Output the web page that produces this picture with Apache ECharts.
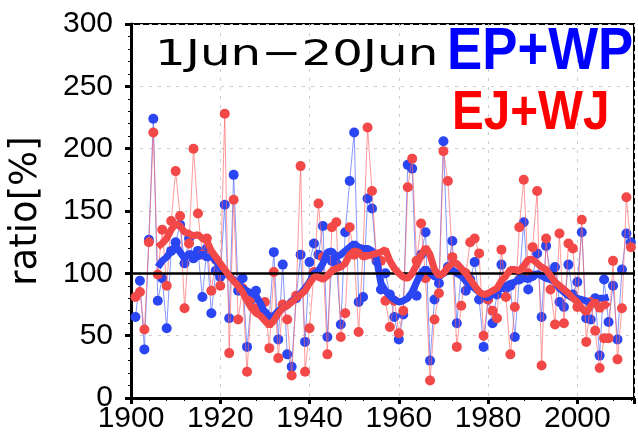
<!DOCTYPE html>
<html>
<head>
<meta charset="utf-8">
<script src="https://cdn.jsdelivr.net/npm/echarts@6/dist/echarts.min.js"></script>
</head>
<body style="margin:0;background:#fff">
<div id="main" style="width:638px;height:444px"></div>
<script>
// yearly ratio [%], 1901-2012
var firstYear = 1901;
var epwp = [65, 94, 39, 127, 224, 78, 96, 56, 118, 125,
    139, 108, 128, 112, 118, 81, 120, 68, 102, 97,
    155, 64, 179, 86, 96, 41, 79, 86, 72, 68,
    65, 117, 47, 107, 35, 25, 80, 115, 45, 109,
    124, 115, 138, 49, 110, 108, 59, 133, 174, 213,
    77, 81, 160, 152, 110, 87, 100, 83, 65, 47,
    67, 187, 184, 82, 115, 133, 30, 79, 92, 206,
    105, 126, 60, 101, 86, 95, 109, 79, 41, 79,
    60, 83, 107, 88, 90, 49, 95, 141, 87, 98,
    116, 65, 122, 100, 105, 77, 73, 107, 83, 93,
    133, 64, 63, 80, 34, 95, 61, 90, 47, 103,
    132, 125];
var ejwj = [81, 85, 55, 125, 213, 99, 135, 90, 142, 182,
    146, 72, 124, 200, 148, 115, 128, 86, 111, 90,
    228, 36, 159, 63, 88, 21, 80, 72, 68, 77,
    40, 101, 32, 75, 63, 18, 82, 186, 21, 56,
    101, 156, 113, 35, 137, 141, 49, 68, 137, 115,
    53, 118, 217, 166, 112, 110, 78, 57, 78, 52,
    70, 169, 192, 110, 140, 96, 14, 63, 84, 198,
    174, 113, 41, 74, 100, 125, 128, 116, 50, 79,
    70, 64, 119, 81, 35, 73, 137, 175, 100, 121,
    166, 26, 128, 87, 59, 132, 60, 124, 120, 73,
    143, 45, 77, 54, 24, 48, 48, 110, 31, 72,
    161, 121];

// smoothed curves (thick lines), 1906-2007
var firstSmooth = 1906;
var epwpSmooth = [105, 110, 113, 118, 122, 117, 112, 116, 115, 113,
    116, 112, 114, 110, 105, 100, 98, 95, 92, 88,
    86, 84, 82, 76, 68, 64, 66, 70, 72, 74,
    78, 80, 84, 88, 93, 100, 102, 108, 117, 118,
    113, 115, 118, 121, 124, 121, 120, 120, 118, 112,
    92, 86, 82, 79, 77, 78, 80, 85, 93, 100,
    104, 100, 97, 97, 100, 102, 103, 100, 98, 94,
    90, 88, 85, 82, 80, 84, 86, 88, 90, 92,
    93, 95, 96, 95, 97, 100, 98, 96, 95, 93,
    88, 85, 82, 80, 80, 79, 78, 75, 78, 80,
    80, 81];
var ejwjSmooth = [121, 124, 128, 135, 140, 138, 133, 132, 130, 131,
    128, 126, 118, 113, 108, 103, 98, 94, 90, 85,
    78, 72, 68, 66, 62, 58, 62, 68, 72, 74,
    77, 80, 83, 86, 92, 97, 97, 95, 98, 102,
    104, 105, 108, 115, 118, 117, 113, 114, 115, 116,
    117, 119, 110, 104, 100, 97, 96, 100, 107, 114,
    121, 115, 103, 98, 100, 105, 108, 108, 104, 100,
    95, 90, 85, 83, 84, 86, 88, 94, 98, 103,
    103, 102, 106, 111, 111, 108, 105, 103, 98, 93,
    90, 87, 84, 80, 77, 72, 68, 74, 78, 70,
    76, 73];

var yTicks = [0, 50, 100, 150, 200, 250, 300];

function pairs(start, vals) {
    var out = [];
    for (var i = 0; i < vals.length; i++) out.push([start + i, vals[i]]);
    return out;
}

var blue = '#2a45f2', red = '#f24848';
var tickFont = "'Liberation Sans', Arial, sans-serif";

var dom = document.getElementById('main');
var chart = echarts.init(dom);
var option = {
    animation: false,
    backgroundColor: '#fff',
    grid: {
        left: 131, right: 4, top: 24, bottom: 46,
        show: true, borderColor: '#000', borderWidth: 2
    },
    xAxis: {
        type: 'value', min: 1900, max: 2012.7, interval: 20,
        axisLine: { show: true, onZero: false, lineStyle: { color: '#000', width: 3 } },
        axisTick: { show: true, inside: false, length: 6, lineStyle: { color: '#000', width: 3 } },
        minorTick: { show: true, splitNumber: 5, length: 3, lineStyle: { color: '#000', width: 1 } },
        axisLabel: {
            color: '#000', fontSize: 30, fontFamily: tickFont, margin: 6,
            showMaxLabel: false,
            formatter: function (v) { return String(v); }
        },
        splitLine: { show: true, lineStyle: { color: '#cccccc', width: 1, type: [3, 6] } }
    },
    yAxis: {
        type: 'value', min: yTicks[0], max: yTicks[yTicks.length - 1], interval: 50,
        name: 'ratio[%]', nameLocation: 'middle', nameGap: 86,
        nameTextStyle: { color: '#000', fontSize: 37, fontFamily: "'DejaVu Sans', sans-serif" },
        axisLine: { show: true, lineStyle: { color: '#000', width: 3 } },
        axisTick: { show: true, length: 6, lineStyle: { color: '#000', width: 3 } },
        minorTick: { show: true, splitNumber: 5, length: 3, lineStyle: { color: '#000', width: 1 } },
        axisLabel: { color: '#000', fontSize: 30, fontFamily: tickFont, margin: 18 },
        splitLine: { show: true, lineStyle: { color: '#cccccc', width: 1, type: [3, 6] } }
    },
    graphic: [
        {
            type: 'text', x: 155, y: 38, z: 100, scaleX: 1.34,
            style: { text: '1Jun\u221220Jun', fill: '#000', font: "36px 'DejaVu Sans'" }
        },
        {
            type: 'text', x: 447, y: 22, z: 100, scaleX: 0.88,
            style: { text: 'EP+WP', fill: '#0000ff', font: "bold 60px 'Liberation Sans', Arial" }
        },
        {
            type: 'text', x: 452, y: 86, z: 100, scaleX: 0.85,
            style: { text: 'EJ+WJ', fill: '#ff0000', font: "bold 56px 'Liberation Sans', Arial" }
        }
    ],
    series: [
        {
            name: 'EP+WP', type: 'line', z: 2,
            data: pairs(firstYear, epwp),
            symbol: 'circle', symbolSize: 10,
            itemStyle: { color: blue },
            lineStyle: { color: 'rgba(70,95,255,0.65)', width: 1 }
        },
        {
            name: 'EJ+WJ', type: 'line', z: 3,
            data: pairs(firstYear, ejwj),
            symbol: 'circle', symbolSize: 10,
            itemStyle: { color: red },
            lineStyle: { color: 'rgba(255,100,100,0.65)', width: 1 }
        },
        {
            name: 'EP+WP smooth', type: 'line', z: 4,
            data: pairs(firstSmooth, epwpSmooth),
            showSymbol: false,
            lineStyle: { color: blue, width: 7 }
        },
        {
            name: 'EJ+WJ smooth', type: 'line', z: 5,
            data: pairs(firstSmooth, ejwjSmooth),
            showSymbol: false,
            lineStyle: { color: red, width: 7 }
        },
        {
            name: 'ref', type: 'line', z: 6, data: [],
            markLine: {
                silent: true, symbol: 'none', label: { show: false },
                lineStyle: { color: '#000', width: 2.5, type: 'solid' },
                data: [{ yAxis: 100 }]
            }
        }
    ]
};
chart.setOption(option);
</script>
</body>
</html>
